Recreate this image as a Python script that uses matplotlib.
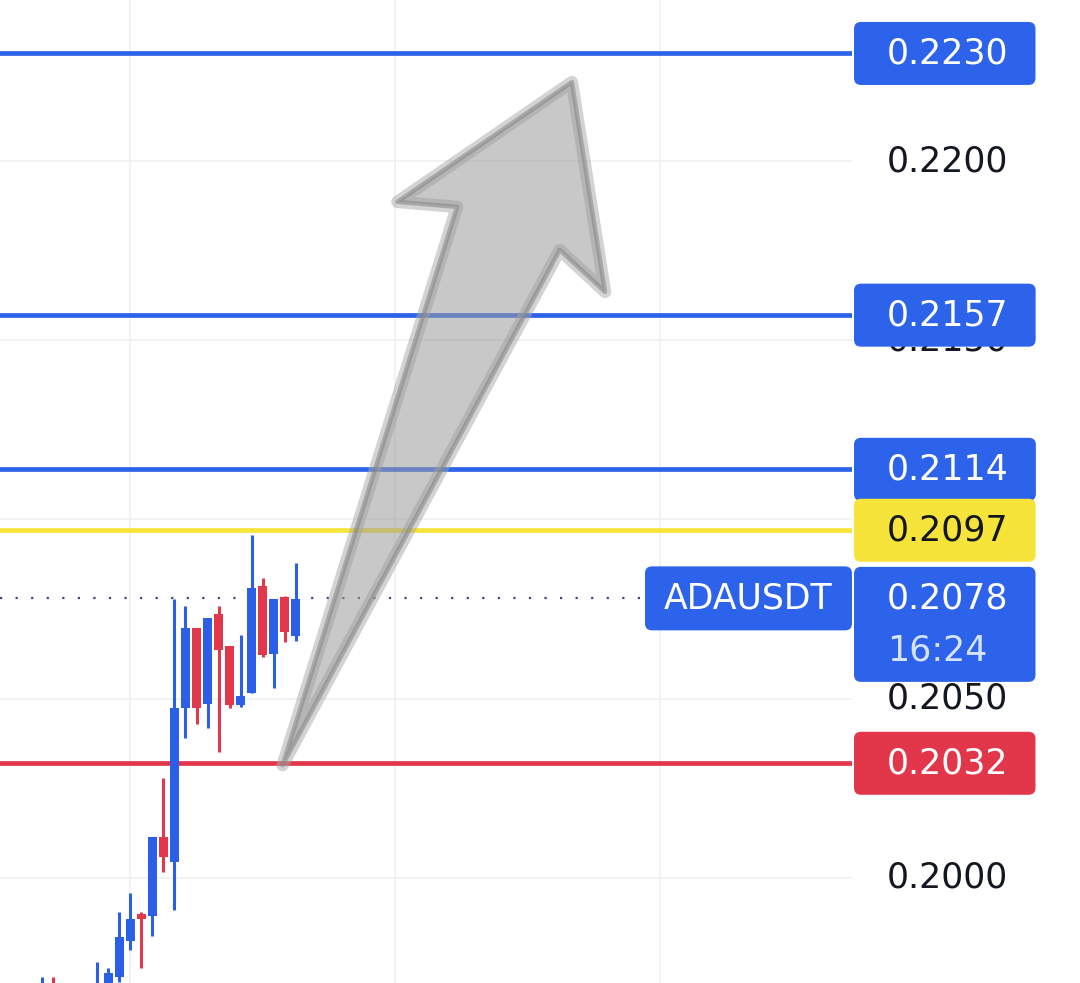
import matplotlib
matplotlib.use('Agg')
import matplotlib.pyplot as plt
from matplotlib.patches import Polygon, FancyBboxPatch

# hourly candles, oldest first (blue = up, red = down)
opens = [0.1962, 0.1969, 0.1967, 0.1966, 0.1964, 0.1965, 0.1968, 0.19724,
         0.19824, 0.19900, 0.19894, 0.20114, 0.20045, 0.20474, 0.20697, 0.20485,
         0.20736, 0.20647, 0.20483, 0.20516, 0.20814, 0.20625, 0.20784, 0.20675]
highs = [0.19724, 0.19724, 0.19700, 0.19708, 0.19690, 0.19766, 0.19749, 0.19905,
         0.19958, 0.19905, 0.20114, 0.20279, 0.20778, 0.20759, 0.20697, 0.20725,
         0.20759, 0.20647, 0.20678, 0.20957, 0.20837, 0.20778, 0.20787, 0.20879]
lows = [0.1955, 0.1960, 0.1958, 0.1957, 0.1956, 0.1958, 0.1962, 0.19710,
        0.19799, 0.19749, 0.19838, 0.20017, 0.19911, 0.20391, 0.20430, 0.20418,
        0.20351, 0.20475, 0.20477, 0.20516, 0.20617, 0.20530, 0.20658, 0.20661]
closes = [0.1968, 0.1964, 0.1962, 0.1969, 0.1967, 0.1969, 0.19735, 0.19835,
          0.19886, 0.19886, 0.20114, 0.20059, 0.20474, 0.20697, 0.20474, 0.20725,
          0.20636, 0.20483, 0.20508, 0.20809, 0.20622, 0.20778, 0.20686, 0.20778]

# drawn levels and their price tags
level_prices = [0.2230, 0.2157, 0.2114, 0.2097, 0.2032]
level_colors = ['#2d62ea', '#2d62ea', '#2d62ea', '#f7e43a', '#e2364b']
level_text_colors = ['white', 'white', 'white', '#131722', 'white']

axis_prices = [0.2000, 0.2050, 0.2150, 0.2200]
grid_prices = [0.2000, 0.2050, 0.2100, 0.2150, 0.2200]
grid_bars = [8, 32, 56]

symbol = 'ADAUSDT'
last_price = 0.2078
countdown = '16:24'

# hand drawn arrow (bar index, price)
arrow_x = [21.8, 37.6, 32.2, 48.0, 51.0, 46.9]
arrow_y = [0.20315, 0.21872, 0.21886, 0.22220, 0.21635, 0.21752]

up_color = '#2b5fe8'
down_color = '#e3374c'

W, H = 1080, 983
fig = plt.figure(figsize=(W / 100, H / 100), dpi=100)
fig.patch.set_facecolor('white')

ax = fig.add_axes([0, 0, 852 / W, 1])
ax.set_xlim(-3.8, 73.37)
ax.set_ylim(0.197071, 0.224491)
ax.axis('off')

# grid
for p in grid_prices:
    ax.axhline(p, color='#eef0f4', lw=1.2, zorder=0)
for b in grid_bars:
    ax.axvline(b, color='#eef0f4', lw=1.2, zorder=0)

# last price dotted line
ax.plot([-3.8, 54.3], [last_price, last_price], color='#3b4a78', lw=1.6,
        linestyle=(0, (1, 6)), zorder=1)

# candles
xs = list(range(len(opens)))
colors = [up_color if c >= o else down_color for o, c in zip(opens, closes)]
ax.vlines(xs, lows, highs, colors=colors, lw=2.2, zorder=3)
bottoms = [min(o, c) for o, c in zip(opens, closes)]
heights = [max(abs(c - o), 0.00006) for o, c in zip(opens, closes)]
ax.bar(xs, heights, bottom=bottoms, width=0.8, color=colors, zorder=4)

# levels
for p, c in zip(level_prices, level_colors):
    ax.axhline(p, color=c, lw=3.4, zorder=2)

# arrow
pts = list(zip(arrow_x, arrow_y))
ax.add_patch(Polygon(pts, closed=True, fill=False, edgecolor='#a8a8a8', alpha=0.5,
                     lw=9, joinstyle='round', zorder=6))
ax.add_patch(Polygon(pts, closed=True, facecolor='#9c9c9c', edgecolor='none',
                     alpha=0.55, zorder=6))
ax.add_patch(Polygon(pts, closed=True, fill=False, edgecolor='#858585', alpha=0.55,
                     lw=3.2, joinstyle='round', zorder=7))

# overlay in pixel units for the price scale
ov = fig.add_axes([0, 0, 1, 1], facecolor='none')
ov.set_xlim(0, W)
ov.set_ylim(H, 0)
ov.axis('off')


def to_px(p):
    return H - ax.transData.transform((0, p))[1]


fs = 25
font = 'DejaVu Sans'

for p in axis_prices:
    ov.text(887, to_px(p), f'{p:.4f}', fontsize=fs, family=font, color='#131722',
            ha='left', va='center', zorder=1)

fig.canvas.draw()
renderer = fig.canvas.get_renderer()


def tag(y_center, text, color, tcolor, height=63, extra=0):
    t = ov.text(887, y_center, text, fontsize=fs, family=font, color=tcolor,
                ha='left', va='center', zorder=4)
    bb = t.get_window_extent(renderer)
    x1 = ov.transData.inverted().transform((bb.x1, 0))[0]
    top = y_center - height / 2
    ov.add_patch(FancyBboxPatch((854, top), x1 + 27 - 854, height + extra,
                                boxstyle='round,pad=0,rounding_size=7',
                                fc=color, ec='none', zorder=3))


for p, c, tc in zip(level_prices, level_colors, level_text_colors):
    tag(to_px(p), f'{p:.4f}', c, tc)

# last price tag with countdown
yl = to_px(last_price)
tag(yl, f'{last_price:.4f}', '#2d62ea', 'white', extra=52)
ov.text(887, yl + 52, countdown, fontsize=fs, family=font, color='#d6e3ff',
        ha='left', va='center', zorder=4)

# symbol tag
ov.add_patch(FancyBboxPatch((645, yl - 32), 207, 64,
                            boxstyle='round,pad=0,rounding_size=7',
                            fc='#2d62ea', ec='none', zorder=3))
ov.text(748, yl, symbol, fontsize=fs, family=font, color='white',
        ha='center', va='center', zorder=4)

fig.savefig('out.png', dpi=100, facecolor='white')
